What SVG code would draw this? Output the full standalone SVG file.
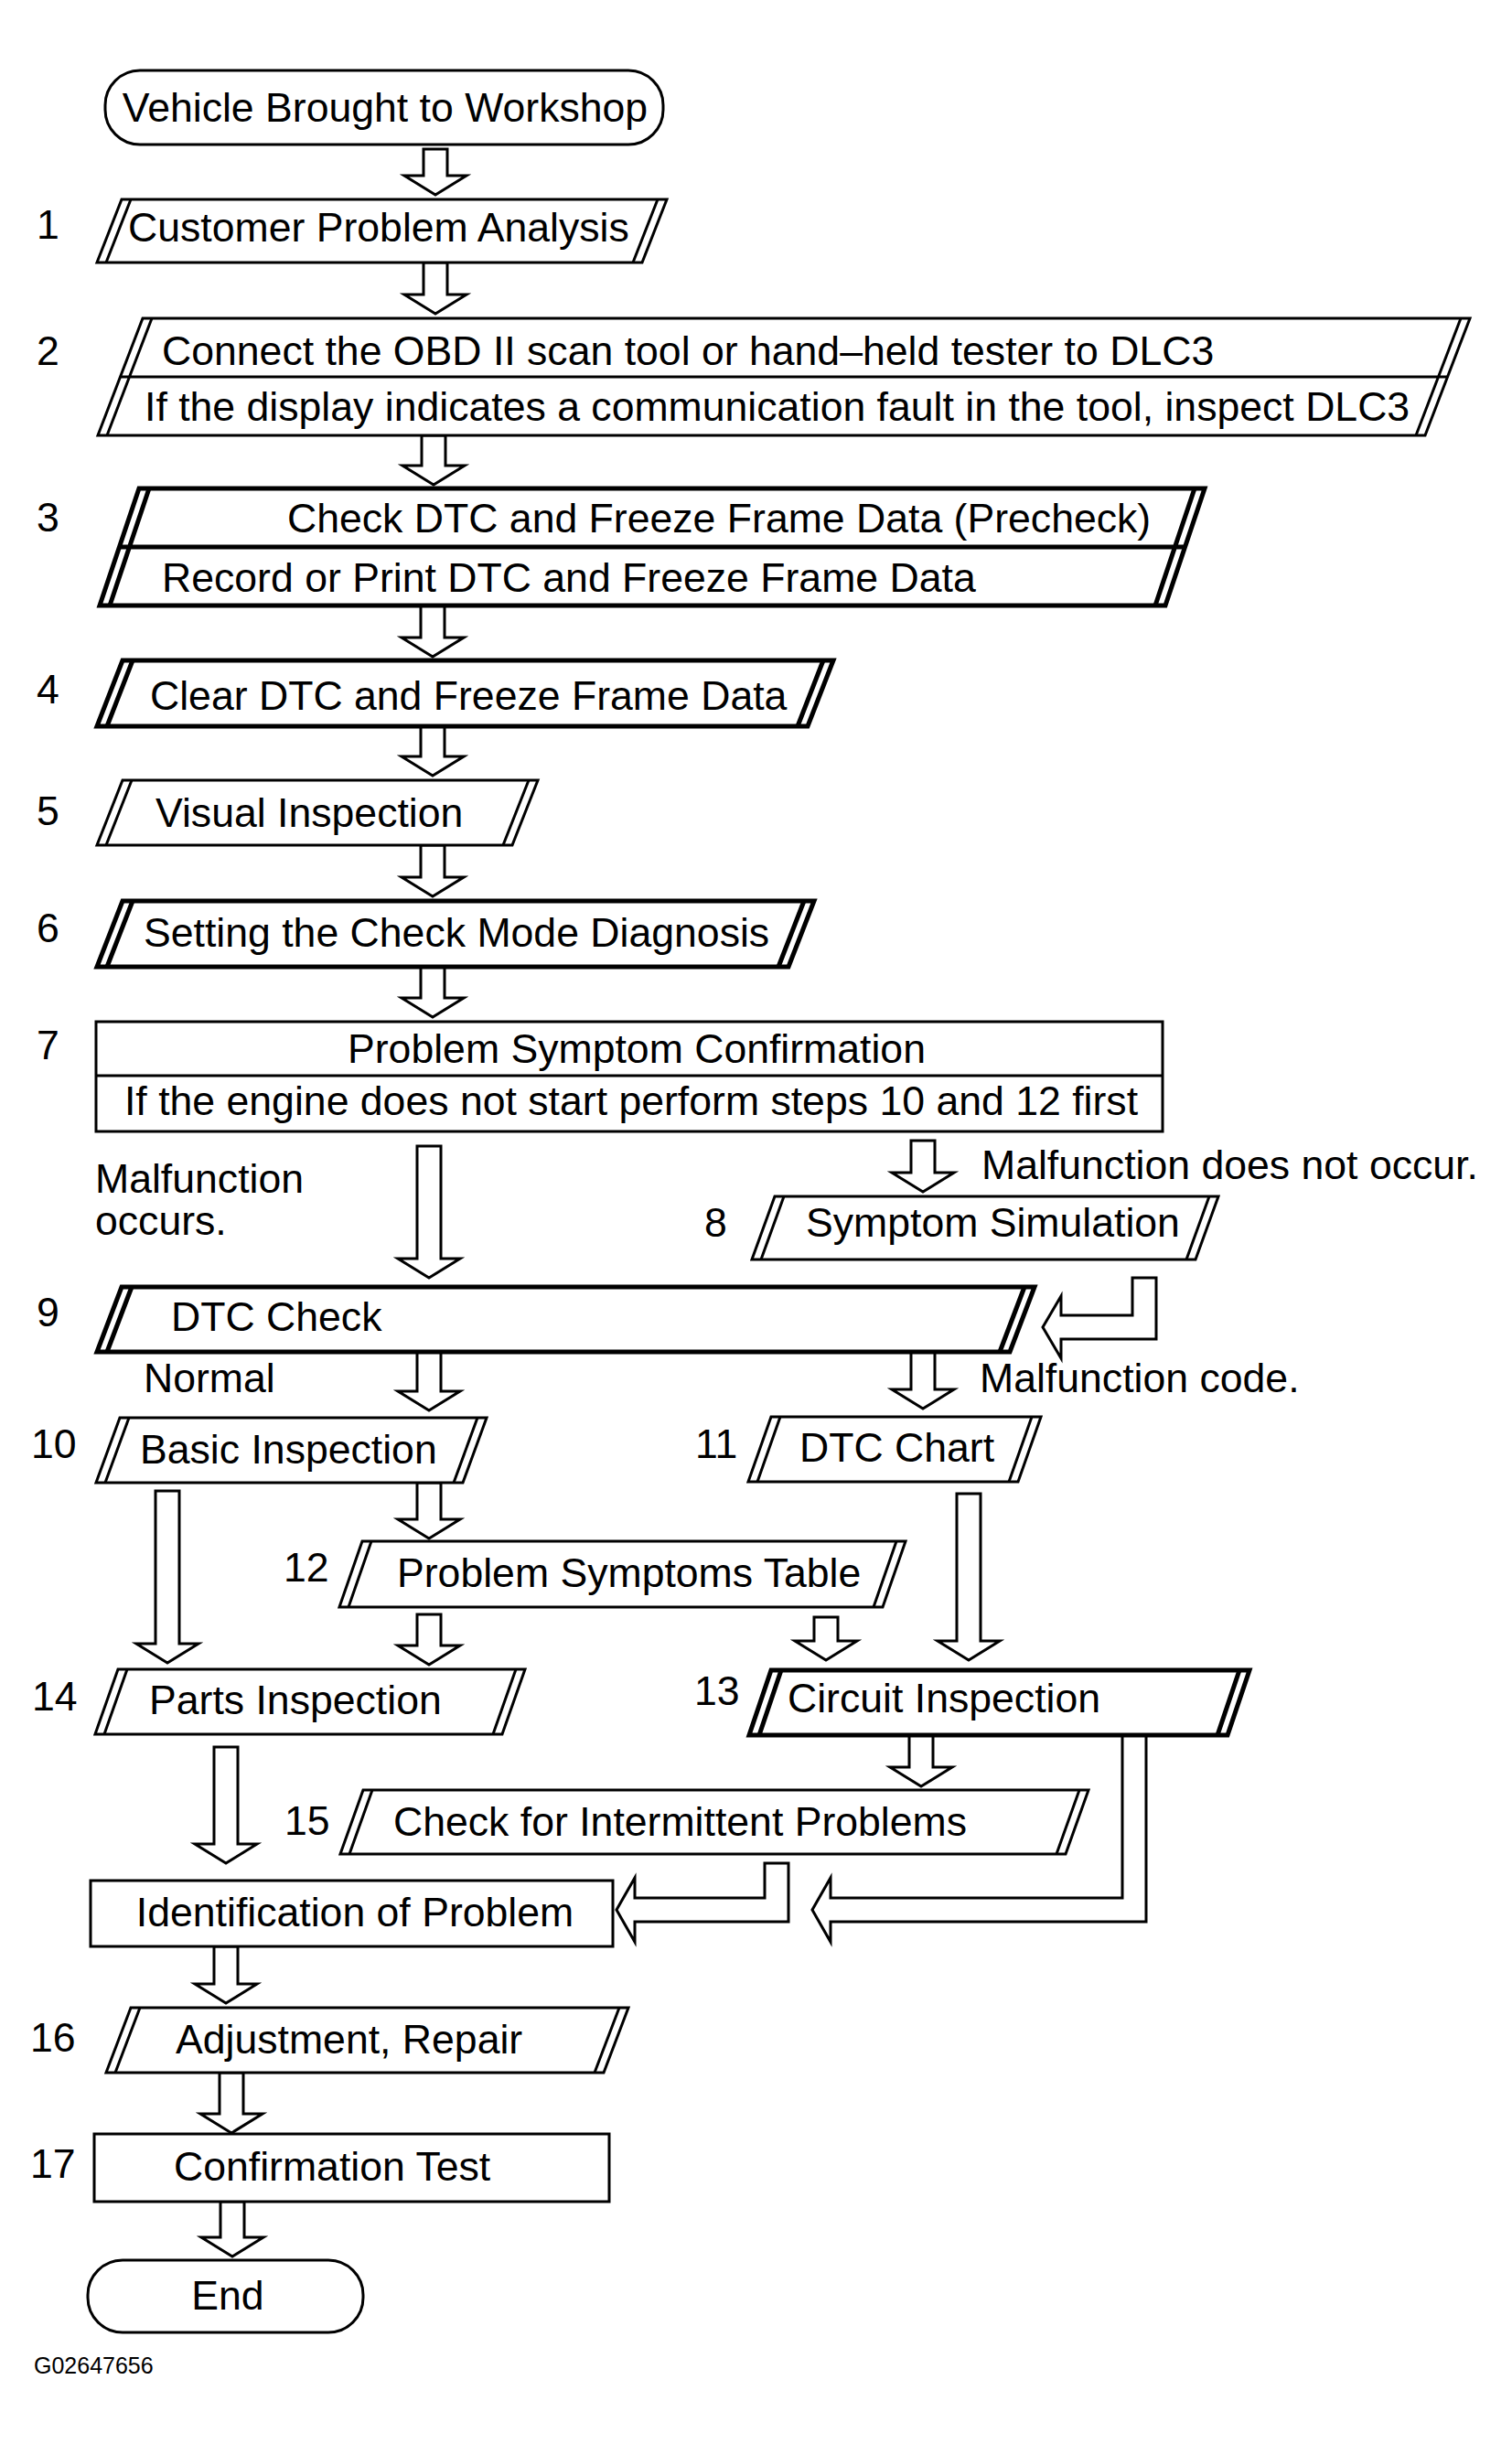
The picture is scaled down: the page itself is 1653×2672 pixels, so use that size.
<svg xmlns="http://www.w3.org/2000/svg" width="1653" height="2672" viewBox="0 0 1653 2672">
  <style>
    .bg { fill: #ffffff; }
    .box { fill: #ffffff; stroke: #000000; stroke-width: 3; stroke-linejoin: miter; }
    .thick { stroke-width: 5; }
    .ln { fill: none; stroke: #000000; stroke-width: 3; }
    .ln.thick { stroke-width: 5; }
    .arrow { fill: #ffffff; stroke: #000000; stroke-width: 3; stroke-linejoin: miter; }
    text { font-family: "Liberation Sans", Arial, Helvetica, sans-serif; font-size: 44.6px; fill: #000000; }
    .mid { text-anchor: middle; }
    .code { font-size: 25px; }
  </style>
  <rect class="bg" x="0" y="0" width="1653" height="2672"/>

  <!-- block arrows between the steps -->
  <g id="connectors">
    <path class="arrow" d="M463 163 H489 V192 H510 L476 213 L442 192 H463 Z"/>
    <path class="arrow" d="M463 287 H489 V322 H510 L476 343 L442 322 H463 Z"/>
    <path class="arrow" d="M461 476 H487 V509 H508 L474 530 L440 509 H461 Z"/>
    <path class="arrow" d="M460 662 H486 V697 H507 L473 718 L439 697 H460 Z"/>
    <path class="arrow" d="M460 794 H486 V827 H507 L473 848 L439 827 H460 Z"/>
    <path class="arrow" d="M460 924 H486 V959 H507 L473 980 L439 959 H460 Z"/>
    <path class="arrow" d="M460 1057 H486 V1091 H507 L473 1112 L439 1091 H460 Z"/>
    <path class="arrow" d="M456 1253 H482 V1376 H503 L469 1397 L435 1376 H456 Z"/>
    <path class="arrow" d="M996 1247 H1022 V1282 H1043 L1009 1303 L975 1282 H996 Z"/>
    <path class="arrow" d="M1238 1397 H1264 V1464 H1160 V1485 L1140 1451 L1160 1417 V1438 H1238 Z"/>
    <path class="arrow" d="M456 1478 H482 V1521 H503 L469 1542 L435 1521 H456 Z"/>
    <path class="arrow" d="M996 1478 H1022 V1519 H1043 L1009 1540 L975 1519 H996 Z"/>
    <path class="arrow" d="M170 1630 H196 V1797 H217 L183 1818 L149 1797 H170 Z"/>
    <path class="arrow" d="M456 1621 H482 V1661 H503 L469 1682 L435 1661 H456 Z"/>
    <path class="arrow" d="M1046 1633 H1072 V1794 H1093 L1059 1815 L1025 1794 H1046 Z"/>
    <path class="arrow" d="M456 1765 H482 V1799 H503 L469 1820 L435 1799 H456 Z"/>
    <path class="arrow" d="M890 1768 H916 V1794 H937 L903 1815 L869 1794 H890 Z"/>
    <path class="arrow" d="M234 1910 H260 V2016 H281 L247 2037 L213 2016 H234 Z"/>
    <path class="arrow" d="M994 1897 H1020 V1932 H1041 L1007 1953 L973 1932 H994 Z"/>
    <path class="arrow" d="M836 2037 H862 V2101 H694 V2123 L674 2088 L694 2053 V2075 H836 Z"/>
    <path class="arrow" d="M1227 1897 H1253 V2101 H908 V2123 L888 2088 L908 2053 V2075 H1227 Z"/>
    <path class="arrow" d="M234 2128 H260 V2169 H281 L247 2190 L213 2169 H234 Z"/>
    <path class="arrow" d="M240 2266 H266 V2311 H287 L253 2332 L219 2311 H240 Z"/>
    <path class="arrow" d="M241 2407 H267 V2446 H288 L254 2467 L220 2446 H241 Z"/>
  </g>

  <g id="start">
    <rect class="box" x="115" y="77" width="610" height="81" rx="38" ry="38"/>
    <text class="mid" x="421" y="133">Vehicle Brought to Workshop</text>
  </g>

  <g id="step1">
    <polygon class="box" points="133,218 729,218 702,287 106,287"/>
    <path class="ln" d="M143 218 L116 287 M719 218 L692 287"/>
    <text x="40" y="261">1</text>
    <text x="140" y="264">Customer Problem Analysis</text>
  </g>

  <g id="step2">
    <polygon class="box" points="156,348 1607,348 1558,476 107,476"/>
    <path class="ln" d="M166 348 L117 476 M1597 348 L1548 476 M131 412 H1583"/>
    <text x="40" y="399">2</text>
    <text x="177" y="399">Connect the OBD II scan tool or hand–held tester to DLC3</text>
    <text x="158" y="460">If the display indicates a communication fault in the tool, inspect DLC3</text>
  </g>

  <g id="step3">
    <polygon class="box thick" points="152,534 1317,534 1274,662 109,662"/>
    <path class="ln thick" d="M163 534 L120 662 M1306 534 L1263 662 M130 598 H1296"/>
    <text x="40" y="581">3</text>
    <text x="314" y="582">Check DTC and Freeze Frame Data (Precheck)</text>
    <text x="177" y="647">Record or Print DTC and Freeze Frame Data</text>
  </g>

  <g id="step4">
    <polygon class="box thick" points="134,722 911,722 883,794 106,794"/>
    <path class="ln thick" d="M145 722 L117 794 M900 722 L872 794"/>
    <text x="40" y="769">4</text>
    <text x="164" y="776">Clear DTC and Freeze Frame Data</text>
  </g>

  <g id="step5">
    <polygon class="box" points="134,853 588,853 560,924 106,924"/>
    <path class="ln" d="M144 853 L116 924 M578 853 L550 924"/>
    <text x="40" y="902">5</text>
    <text x="170" y="904">Visual Inspection</text>
  </g>

  <g id="step6">
    <polygon class="box thick" points="134,985 890,985 862,1057 106,1057"/>
    <path class="ln thick" d="M145 985 L117 1057 M879 985 L851 1057"/>
    <text x="40" y="1030">6</text>
    <text x="157" y="1035">Setting the Check Mode Diagnosis</text>
  </g>

  <g id="step7">
    <rect class="box" x="105" y="1117" width="1166" height="120"/>
    <path class="ln" d="M105 1176 H1271"/>
    <text x="40" y="1158">7</text>
    <text class="mid" x="696" y="1162">Problem Symptom Confirmation</text>
    <text class="mid" x="690" y="1219">If the engine does not start perform steps 10 and 12 first</text>
  </g>

  <g id="label-occurs">
    <text x="104" y="1304">Malfunction</text>
    <text x="104" y="1350">occurs.</text>
  </g>
  <g id="label-not-occur">
    <text x="1073" y="1289">Malfunction does not occur.</text>
  </g>

  <g id="step8">
    <polygon class="box" points="847,1308 1332,1308 1307,1377 822,1377"/>
    <path class="ln" d="M857 1308 L832 1377 M1322 1308 L1297 1377"/>
    <text x="770" y="1352">8</text>
    <text x="881" y="1352">Symptom Simulation</text>
  </g>

  <g id="step9">
    <polygon class="box thick" points="133,1407 1131,1407 1104,1478 106,1478"/>
    <path class="ln thick" d="M144 1407 L117 1478 M1120 1407 L1093 1478"/>
    <text x="40" y="1450">9</text>
    <text x="187" y="1455">DTC Check</text>
  </g>

  <g id="label-normal">
    <text x="157" y="1522">Normal</text>
  </g>
  <g id="label-code">
    <text x="1071" y="1522">Malfunction code.</text>
  </g>

  <g id="step10">
    <polygon class="box" points="131,1550 532,1550 506,1621 105,1621"/>
    <path class="ln" d="M141 1550 L115 1621 M522 1550 L496 1621"/>
    <text x="34" y="1594">10</text>
    <text x="153" y="1600">Basic Inspection</text>
  </g>

  <g id="step11">
    <polygon class="box" points="843,1549 1138,1549 1113,1620 818,1620"/>
    <path class="ln" d="M853 1549 L828 1620 M1128 1549 L1103 1620"/>
    <text x="760" y="1594">11</text>
    <text x="874" y="1598">DTC Chart</text>
  </g>

  <g id="step12">
    <polygon class="box" points="396,1685 990,1685 965,1757 371,1757"/>
    <path class="ln" d="M406 1685 L381 1757 M980 1685 L955 1757"/>
    <text x="310" y="1729">12</text>
    <text x="434" y="1735">Problem Symptoms Table</text>
  </g>

  <g id="step14">
    <polygon class="box" points="129,1825 574,1825 549,1896 104,1896"/>
    <path class="ln" d="M139 1825 L114 1896 M564 1825 L539 1896"/>
    <text x="35" y="1870">14</text>
    <text x="163" y="1874">Parts Inspection</text>
  </g>

  <g id="step13">
    <polygon class="box thick" points="843,1826 1366,1826 1342,1897 819,1897"/>
    <path class="ln thick" d="M854 1826 L830 1897 M1355 1826 L1331 1897"/>
    <text x="759" y="1864">13</text>
    <text x="861" y="1872">Circuit Inspection</text>
  </g>

  <g id="step15">
    <polygon class="box" points="397,1957 1190,1957 1165,2027 372,2027"/>
    <path class="ln" d="M407 1957 L382 2027 M1180 1957 L1155 2027"/>
    <text x="311" y="2006">15</text>
    <text x="430" y="2007">Check for Intermittent Problems</text>
  </g>

  <g id="identification">
    <rect class="box" x="99" y="2056" width="571" height="72"/>
    <text class="mid" x="388" y="2106">Identification of Problem</text>
  </g>

  <g id="step16">
    <polygon class="box" points="143,2195 687,2195 660,2266 116,2266"/>
    <path class="ln" d="M153 2195 L126 2266 M677 2195 L650 2266"/>
    <text x="33" y="2243">16</text>
    <text x="192" y="2245">Adjustment, Repair</text>
  </g>

  <g id="step17">
    <rect class="box" x="103" y="2333" width="563" height="74"/>
    <text x="33" y="2381">17</text>
    <text x="190" y="2384">Confirmation Test</text>
  </g>

  <g id="end">
    <rect class="box" x="96" y="2471" width="301" height="79" rx="38" ry="38"/>
    <text class="mid" x="249" y="2525">End</text>
  </g>

  <text class="code" x="37" y="2595">G02647656</text>
</svg>
